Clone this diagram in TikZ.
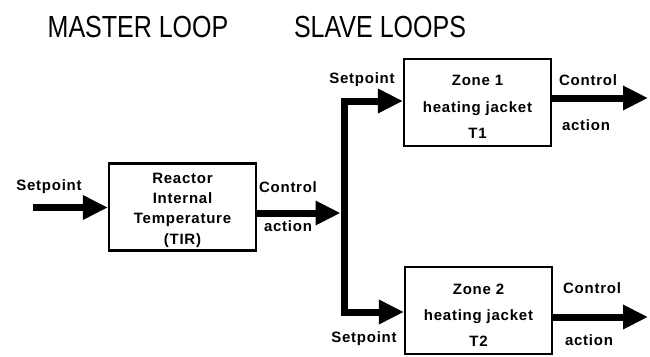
\documentclass[tikz,border=0pt]{standalone}
\usepackage{fontspec}
\setmainfont{Liberation Sans}
\newfontfamily\lblfont{Liberation Sans}[LetterSpace=5]
\usetikzlibrary{arrows.meta}
% lines of a box: raise, line pitch, lines
\newcommand\boxlines[3]{\raisebox{#1}[0pt][0pt]{\fontsize{15}{#2}\selectfont\begin{tabular}{@{}c@{}}#3\end{tabular}}}
\tikzset{
  box/.style={rectangle, draw=black, line width=2.2pt, minimum width=147pt, minimum height=87pt, inner sep=0pt, font=\lblfont\bfseries},
  lbl/.style={inner sep=0pt, anchor=base, font=\lblfont\bfseries\fontsize{15}{18}\selectfont},
  headline/.style={inner sep=0pt, font=\fontsize{30.5}{36}\selectfont},
  flow/.style={line width=7pt, -{Triangle[length=25pt, width=23pt]}},
}
\begin{document}
\begin{tikzpicture}[x=1pt, y=-1pt]
  \useasboundingbox (0,0) rectangle (650,356);
  % headings
  \node[headline] (master title) at (138,27) {\scalebox{0.82}[1]{MASTER LOOP}};
  \node[headline] (slave title) at (380,27) {\scalebox{0.82}[1]{SLAVE LOOPS}};
  % controllers
  \node[box] (master) at (182.5,207) {\boxlines{-6.2pt}{20.3}{Reactor\\Internal\\Temperature\\(TIR)}};
  \node[box] (zone1) at (477.5,102.5) {\boxlines{-7.9pt}{26.2}{Zone 1\\heating jacket\\T1}};
  \node[box] (zone2) at (478.5,310.5) {\boxlines{-8.5pt}{25.6}{Zone 2\\heating jacket\\T2}};
  % free ends
  \coordinate (in) at (33,207.5);
  \coordinate (split) at (344,213);
  \coordinate (out1) at (648,98);
  \coordinate (out2) at (648,317);
  % signals
  \draw[flow] (in) -- (master.west |- in);
  \draw[flow, shorten >=3.5pt] (master.east |- split) -- (split);
  \draw[flow] (split) |- ([yshift=1.5pt]zone1.west);
  \draw[flow] (split) |- ([yshift=-1.5pt]zone2.west);
  \draw[flow] (zone1.east |- out1) -- (out1);
  \draw[flow] (zone2.east |- out2) -- (out2);
  % labels
  \node[lbl] (sp0) at (49,190.7) {Setpoint};
  \node[lbl] (ctl0) at (288,192.5) {Control};
  \node[lbl] (act0) at (288,231.5) {action};
  \node[lbl] (sp1) at (362,83.5) {Setpoint};
  \node[lbl] (ctl1) at (588,85.5) {Control};
  \node[lbl] (act1) at (586,130.5) {action};
  \node[lbl] (sp2) at (364,342) {Setpoint};
  \node[lbl] (ctl2) at (592,293) {Control};
  \node[lbl] (act2) at (589,345) {action};
\end{tikzpicture}
\end{document}
